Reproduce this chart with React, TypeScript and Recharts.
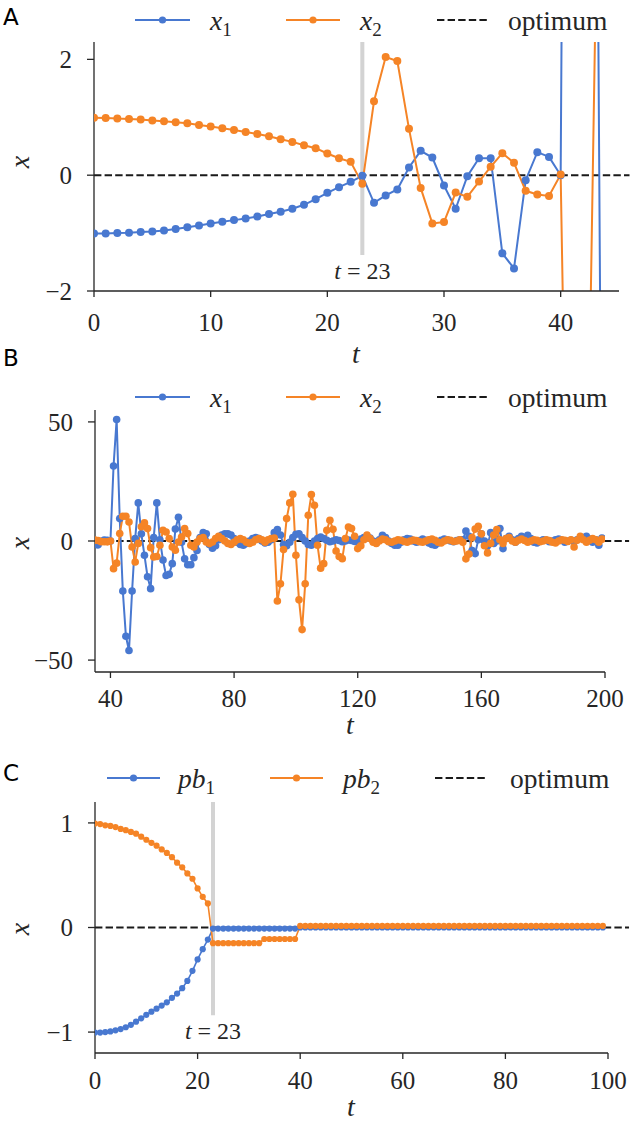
import React from 'react';
import { LineChart, Line, XAxis, YAxis, ReferenceLine, Legend } from 'recharts';

// ---------------- data ----------------
// x1(t), t = 0..199
const x1Values = [
  -1.005, -1.005, -1.0, -0.994, -0.983, -0.971, -0.954, -0.931, -0.9, -0.868,
  -0.835, -0.805, -0.776, -0.747, -0.715, -0.672, -0.632, -0.58, -0.511, -0.414,
  -0.305, -0.207, -0.115, -0.01, -0.477, -0.35, -0.247, 0.132, 0.42, 0.305,
  -0.178, -0.58, -0.017, 0.293, 0.293, -1.35, -1.61, -0.086, 0.397, 0.316,
  0.0, 31.5, 51, 9.4, -21, -40, -46, -21, 1, 16,
  3, -6, -15, -20, 1.5, 16, 0.5, -8, -14.5, -14,
  -9.5, 5, 10, -0.5, -7.5, -10, -10, -7, -4, 1.5,
  3.5, 3, -1.5, -3, -2, 0.5, 2.5, 3, 3, 2.5,
  1, -0.5, -1.5, -1.8, -1, 0, 1, 1.5, 1, 0,
  -0.8, -0.5, 0.5, 3.5, 4.8, 2.5, -1.5, -2, -0.5, 1.5,
  2.8, 3, 1.5, 0, -1.5, -1.8, 0, 1, 1.7, 1,
  0.3, -0.3, 0, 0.5, 0.2, -0.3, 0, 0.4, 0.2, -0.2,
  0.3, 0.8, 1.5, 2, 1.2, 0, -0.8, 0.5, 2.4, 1.5,
  0, -1, -1.8, -1.8, -0.5, 0.5, 1, 0.8, 0, -0.5,
  0.2, 0.8, 0.3, -0.8, -1.5, -1.8, -0.8, 0.3, 0.8, 0.5,
  0, -0.3, 0.2, 0.5, 0.5, 4.2, 2, -4, -5.3, 0.5,
  3, 0, -2, 3.5, -1, 0, 5.2, -3.2, 1, 2,
  0.5, -0.5, 1, 2, 1.5, 2.4, 1, -0.5, -0.8, 0,
  0.5, 0.3, -0.3, 0, 0.5, 0.8, 0.3, -0.5, 0, 0.3,
  -0.3, 0.5, 1.2, 1.5, 2, 0.8, -0.5, 0.5, -1.8, 1.2,
];

// x2(t), t = 0..199
const x2Values = [
  0.994, 0.989, 0.977, 0.971, 0.96, 0.943, 0.931, 0.914, 0.897, 0.868,
  0.839, 0.81, 0.782, 0.747, 0.713, 0.672, 0.62, 0.575, 0.517, 0.466,
  0.374, 0.293, 0.23, -0.15, 1.276, 2.04, 1.97, 0.8, -0.22, -0.833,
  -0.81, -0.3, -0.374, -0.11, 0.144, 0.38, 0.213, -0.27, -0.333, -0.36,
  0.01, -11.6, -9.3, 3.1, 10.4, 10.4, 8, -2.5, -8.8, -1,
  6, 7.6, 5.2, -2.8, -6.7, -6.5, -1.8, 4.5, 3.8, 1,
  -2.5, -3.9, -0.4, 1.7, 5.2, 3.1, -1.8, -2.5, -0.4, 1,
  1.4, -0.4, -1.1, -0.4, 1, 2, 1, 0, -1, -1.5,
  -0.5, 0.5, 1, 0.5, -0.5, -1, -0.5, 0.5, 1, 0.5,
  -0.5, 0.5, 1, 1.2, -25.2, -18, -3.6, 9.4, 16, 19.6,
  -6, -24.7, -37.2, -18, 10.8, 19.5, 15, -1.8, -11.4, -9.5,
  4.5, 8.7, 4.9, -4.2, -6.5, -7.4, 1, 5.9, 5.2, 2,
  -3.2, -2, 0.5, 2.5, 1, -0.5, -1, 0, 0.8, 0.5,
  -0.3, -0.5, 0, 0.5, 0.3, -0.2, -0.5, 0, 0.4, 0.2,
  -0.3, -0.5, 0, 0.5, 0.8, 0.3, -0.5, -0.8, 0, 0.5,
  0.3, -0.2, 0, 0.5, -0.5, -7.5, -5.5, 1.5, 5, 6.2,
  3, -2, -5, -1, 2.5, 4.8, 0.5, -1, 1, 1.5,
  0, -0.5, 0.3, 0.8, 0.2, -0.5, 0, 0.5, 0.3, -0.3,
  0, 0.5, 0.2, -0.5, -0.8, 0, 0.5, 0.3, -0.2, 0.5,
  -2.5, 0.3, 2, 0.5, -0.5, 0.3, 1, 0.5, -0.5, 0.8,
];

// personal bests, t = 0..99
const pb1Values = [
  -1.005, -1.005, -1.0, -0.994, -0.983, -0.971, -0.954, -0.931, -0.9, -0.868,
  -0.835, -0.805, -0.776, -0.747, -0.715, -0.672, -0.632, -0.58, -0.511, -0.414,
  -0.305, -0.207, -0.115, -0.01, -0.01, -0.01, -0.01, -0.01, -0.01, -0.01,
  -0.01, -0.01, -0.01, -0.01, -0.01, -0.01, -0.01, -0.01, -0.01, -0.01,
  0, 0, 0, 0, 0, 0, 0, 0, 0, 0,
  0, 0, 0, 0, 0, 0, 0, 0, 0, 0,
  0, 0, 0, 0, 0, 0, 0, 0, 0, 0,
  0, 0, 0, 0, 0, 0, 0, 0, 0, 0,
  0, 0, 0, 0, 0, 0, 0, 0, 0, 0,
  0, 0, 0, 0, 0, 0, 0, 0, 0, 0,
];

const pb2Values = [
  0.994, 0.989, 0.977, 0.971, 0.96, 0.943, 0.931, 0.914, 0.897, 0.868,
  0.839, 0.81, 0.782, 0.747, 0.713, 0.672, 0.62, 0.575, 0.517, 0.466,
  0.374, 0.293, 0.23, -0.15, -0.15, -0.15, -0.15, -0.15, -0.15, -0.15,
  -0.15, -0.15, -0.15, -0.11, -0.11, -0.11, -0.11, -0.11, -0.11, -0.11,
  0.015, 0.015, 0.015, 0.015, 0.015, 0.015, 0.015, 0.015, 0.015, 0.015,
  0.015, 0.015, 0.015, 0.015, 0.015, 0.015, 0.015, 0.015, 0.015, 0.015,
  0.015, 0.015, 0.015, 0.015, 0.015, 0.015, 0.015, 0.015, 0.015, 0.015,
  0.015, 0.015, 0.015, 0.015, 0.015, 0.015, 0.015, 0.015, 0.015, 0.015,
  0.015, 0.015, 0.015, 0.015, 0.015, 0.015, 0.015, 0.015, 0.015, 0.015,
  0.015, 0.015, 0.015, 0.015, 0.015, 0.015, 0.015, 0.015, 0.015, 0.015,
];

const switchT = 23;
const optimumValue = 0;

const ticksAX = [0, 10, 20, 30, 40];
const ticksAY = [-2, 0, 2];
const ticksBX = [40, 80, 120, 160, 200];
const ticksBY = [-50, 0, 50];
const ticksCX = [0, 20, 40, 60, 80, 100];
const ticksCY = [-1, 0, 1];

const legendAB = [
  { name: 'x', sub: '1', kind: 'series', color: 'blue' },
  { name: 'x', sub: '2', kind: 'series', color: 'orange' },
  { name: 'optimum', sub: '', kind: 'dash', color: 'black' },
];
const legendC = [
  { name: 'pb', sub: '1', kind: 'series', color: 'blue' },
  { name: 'pb', sub: '2', kind: 'series', color: 'orange' },
  { name: 'optimum', sub: '', kind: 'dash', color: 'black' },
];

const xRows = x1Values.map((v, i) => ({ t: i, x1: v, x2: x2Values[i] }));
const rowsA = xRows.filter((r) => r.t <= 46);
const rowsB = xRows.filter((r) => r.t >= 35);
const rowsC = pb1Values.map((v, i) => ({ t: i, pb1: v, pb2: pb2Values[i] }));

// ---------------- styles ----------------
const BLUE = '#4878d0';
const ORANGE = '#f58426';
const INK = '#262626';
const SERIF = 'Liberation Serif, DejaVu Serif, serif';
const SANS = 'DejaVu Sans, sans-serif';
const colorOf: Record<string, string> = { blue: BLUE, orange: ORANGE, black: '#1a1a1a' };

const minusFmt = (v: number) => (v < 0 ? '\u2212' + Math.abs(v) : String(v));
const tickStyle = { fontSize: 25, fill: INK, fontFamily: SERIF, style: { fontFamily: SERIF } };
const serifStyle = { fontFamily: SERIF };

function makeLegend(items: typeof legendAB, pos: number[][], lineY: number) {
  return () => (
    <svg width={631} height={50} style={{ overflow: 'visible', display: 'block' }}>
      {items.map((it, i) => {
        const [x0, x1, tx] = pos[i];
        const c = colorOf[it.color];
        return (
          <g key={i}>
            {it.kind === 'series' ? (
              <>
                <line x1={x0} x2={x1} y1={lineY} y2={lineY} stroke={c} strokeWidth={2} />
                <circle cx={(x0 + x1) / 2} cy={lineY} r={3.6} fill={c} />
              </>
            ) : (
              <line x1={x0} x2={x1} y1={lineY} y2={lineY} stroke={c} strokeWidth={2} strokeDasharray="7.4 3.2" />
            )}
            <text x={tx} y={lineY + 10} style={serifStyle} fontSize={27.5} fill={INK}>
              {it.sub ? (
                <>
                  <tspan fontStyle="italic">{it.name}</tspan>
                  <tspan fontSize={19} dy={6}>{it.sub}</tspan>
                </>
              ) : (
                it.name
              )}
            </text>
          </g>
        );
      })}
    </svg>
  );
}

const legendPosAB = [
  [135, 190, 210],
  [286, 340, 360],
  [437, 487, 508],
];
const legendPosC = [
  [107, 160, 178],
  [270, 323, 343],
  [435, 488, 510],
];

const SwitchLabel = (props: any) => {
  const vb = props.viewBox || {};
  if (vb.x == null) return null;
  const cx = vb.x + (vb.width || 0) / 2;
  const bottom = Math.max(vb.y, vb.y + (vb.height || 0));
  return (
    <text x={cx} y={bottom + 24} textAnchor="middle" style={serifStyle} fontSize={24} fill={INK}>
      <tspan fontStyle="italic">t</tspan>
      <tspan>{' = ' + switchT}</tspan>
    </text>
  );
};

const dotStyle = (c: string, r: number) => ({ r, fill: c, stroke: c, strokeWidth: 0 });

const xAxisProps = { tickSize: 6, tick: tickStyle, stroke: INK, strokeWidth: 1.3, interval: 0 as const, allowDataOverflow: true };
const yAxisProps = { tickSize: 7, tickMargin: 15, tick: tickStyle, tickFormatter: minusFmt, stroke: INK, strokeWidth: 1.3, interval: 0 as const, allowDataOverflow: true, width: 80 };

export default function App() {
  return (
    <div style={{ position: 'absolute', left: 0, top: 0, width: 631, height: 1125, background: '#fff', fontFamily: SERIF }}>
      {/* Panel A */}
      <div style={{ position: 'absolute', left: 0, top: 0 }}>
        <LineChart width={631} height={360} data={rowsA} margin={{ top: 42, right: 12, bottom: 19, left: 14 }} style={serifStyle}>
          <XAxis type="number" dataKey="t" domain={[0, 45]} ticks={ticksAX} height={50} tickMargin={16} {...xAxisProps} />
          <YAxis type="number" domain={[-2, 2.3]} ticks={ticksAY} {...yAxisProps} />
          <ReferenceLine segment={[{ x: switchT, y: 2.3 }, { x: switchT, y: -1.38 }]} stroke="#d3d3d3" strokeWidth={4}
            ifOverflow="visible" label={<SwitchLabel />} />
          <ReferenceLine segment={[{ x: 0, y: optimumValue }, { x: 45.9, y: optimumValue }]} stroke="#1a1a1a"
            strokeWidth={2} strokeDasharray="7.4 3.2" ifOverflow="visible" />
          <Line dataKey="x1" stroke={BLUE} strokeWidth={2} dot={dotStyle(BLUE, 4)} activeDot={false} isAnimationActive={false} />
          <Line dataKey="x2" stroke={ORANGE} strokeWidth={2} dot={dotStyle(ORANGE, 4)} activeDot={false} isAnimationActive={false} />
          <Legend layout="horizontal" verticalAlign="middle" align="center" wrapperStyle={{ top: 0, left: 0, width: 631 }}
            content={makeLegend(legendAB, legendPosAB, 20)} />
        </LineChart>
      </div>

      {/* Panel B */}
      <div style={{ position: 'absolute', left: 0, top: 375 }}>
        <LineChart width={631} height={360} data={rowsB} margin={{ top: 35, right: 26, bottom: 23, left: 15 }} style={serifStyle}>
          <XAxis type="number" dataKey="t" domain={[35, 200]} ticks={ticksBX} height={40} tickMargin={11} {...xAxisProps} />
          <YAxis type="number" domain={[-55, 55]} ticks={ticksBY} {...yAxisProps} />
          <ReferenceLine segment={[{ x: 35, y: optimumValue }, { x: 207.8, y: optimumValue }]} stroke="#1a1a1a"
            strokeWidth={2} strokeDasharray="7.4 3.2" ifOverflow="visible" />
          <Line dataKey="x1" stroke={BLUE} strokeWidth={2} dot={dotStyle(BLUE, 3.8)} activeDot={false} isAnimationActive={false} />
          <Line dataKey="x2" stroke={ORANGE} strokeWidth={2} dot={dotStyle(ORANGE, 3.8)} activeDot={false} isAnimationActive={false} />
          <Legend layout="horizontal" verticalAlign="middle" align="center" wrapperStyle={{ top: 0, left: 0, width: 631 }}
            content={makeLegend(legendAB, legendPosAB, 22)} />
        </LineChart>
      </div>

      {/* Panel C */}
      <div style={{ position: 'absolute', left: 0, top: 755 }}>
        <LineChart width={631} height={370} data={rowsC} margin={{ top: 47, right: 23, bottom: 22, left: 15 }} style={serifStyle}>
          <XAxis type="number" dataKey="t" domain={[0, 100]} ticks={ticksCX} height={50} tickMargin={12} {...xAxisProps} />
          <YAxis type="number" domain={[-1.2, 1.2]} ticks={ticksCY} {...yAxisProps} />
          <ReferenceLine segment={[{ x: switchT, y: 1.2 }, { x: switchT, y: -0.84 }]} stroke="#d3d3d3" strokeWidth={4}
            ifOverflow="visible" label={<SwitchLabel />} />
          <ReferenceLine segment={[{ x: 0, y: optimumValue }, { x: 104.1, y: optimumValue }]} stroke="#1a1a1a"
            strokeWidth={2} strokeDasharray="7.4 3.2" ifOverflow="visible" />
          <Line dataKey="pb1" stroke={BLUE} strokeWidth={1.6} dot={dotStyle(BLUE, 3.1)} activeDot={false} isAnimationActive={false} />
          <Line dataKey="pb2" stroke={ORANGE} strokeWidth={1.6} dot={dotStyle(ORANGE, 3.1)} activeDot={false} isAnimationActive={false} />
          <Legend layout="horizontal" verticalAlign="middle" align="center" wrapperStyle={{ top: 0, left: 0, width: 631 }}
            content={makeLegend(legendC, legendPosC, 23)} />
        </LineChart>
      </div>

      {/* Panel letters and axis titles */}
      <svg width={631} height={1125} style={{ position: 'absolute', left: 0, top: 0, pointerEvents: 'none' }}>
        <text x={3} y={25} style={{ fontFamily: SANS }} fontSize={23} fill="#000">A</text>
        <text x={3} y={366} style={{ fontFamily: SANS }} fontSize={23} fill="#000">B</text>
        <text x={3} y={781} style={{ fontFamily: SANS }} fontSize={23} fill="#000">C</text>

        <text x={0} y={0} transform="translate(29,162) rotate(-90)" textAnchor="middle" style={serifStyle} fontStyle="italic" fontSize={28} fill={INK}>x</text>
        <text x={0} y={0} transform="translate(29,543) rotate(-90)" textAnchor="middle" style={serifStyle} fontStyle="italic" fontSize={28} fill={INK}>x</text>
        <text x={0} y={0} transform="translate(29,929) rotate(-90)" textAnchor="middle" style={serifStyle} fontStyle="italic" fontSize={28} fill={INK}>x</text>

        <text x={356} y={363} textAnchor="middle" style={serifStyle} fontStyle="italic" fontSize={28} fill={INK}>t</text>
        <text x={350} y={734} textAnchor="middle" style={serifStyle} fontStyle="italic" fontSize={28} fill={INK}>t</text>
        <text x={351} y={1116} textAnchor="middle" style={serifStyle} fontStyle="italic" fontSize={28} fill={INK}>t</text>
      </svg>
    </div>
  );
}
